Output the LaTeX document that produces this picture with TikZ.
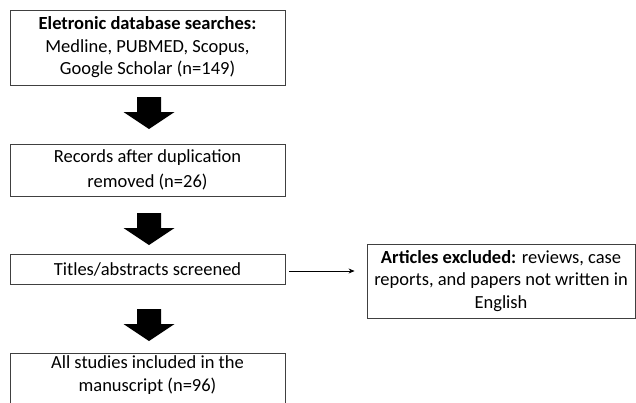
\documentclass[tikz,border=0pt]{standalone}
\usepackage{fontspec}
\setmainfont{Carlito}
\usetikzlibrary{arrows.meta,calc}
\begin{document}
\begin{tikzpicture}[x=1pt,y=-1pt,
  box/.style={draw=black!75, line width=0.9pt, align=center, inner sep=0pt,
    font=\fontsize{18.5}{22.5}\selectfont},
  barrow/.pic={\fill[black] (-12,0) -- (12,0) -- (12,15) -- (25.5,15) -- (0,32) -- (-25.5,15) -- (-12,15) -- cycle;}]
\clip (0,0) rectangle (636,402);
\useasboundingbox (0,0) rectangle (636,402);
\fill[white] (0,0) rectangle (636,402);
\node[box, minimum width=275pt, minimum height=75pt] (b1) at (147.5,47.5)
  {\textbf{Eletronic database searches:}\\Medline, PUBMED, Scopus,\\Google Scholar (n=149)};
\node[box, minimum width=275pt, minimum height=52pt, font=\fontsize{18.5}{25}\selectfont] (b2) at (147.5,170)
  {Records after duplication\\removed (n=26)};
\node[box, minimum width=275pt, minimum height=30pt] (b3) at (147.5,269)
  {Titles/abstracts screened};
\node[box, minimum width=268pt, minimum height=74pt] (b4) at (501,281)
  {\textbf{Articles excluded:} reviews, case\\reports, and papers not written in\\English};
\draw[draw=black!75, line width=0.9pt] (10,353) rectangle (285,430);
\node[align=center, inner sep=0pt, font=\fontsize{18.5}{22.5}\selectfont] (b5) at (147.5,375)
  {All studies included in the\\manuscript (n=96)};
\pic at (149,97) {barrow};
\pic at (149,213) {barrow};
\pic at (149,309) {barrow};
\coordinate (s) at ($(b3.east)+(4,2)$);
\draw[line width=0.7pt, -{Stealth[length=6pt,width=5pt]}, shorten >=12pt] (s) -- (b4.west |- s);
\end{tikzpicture}
\end{document}
